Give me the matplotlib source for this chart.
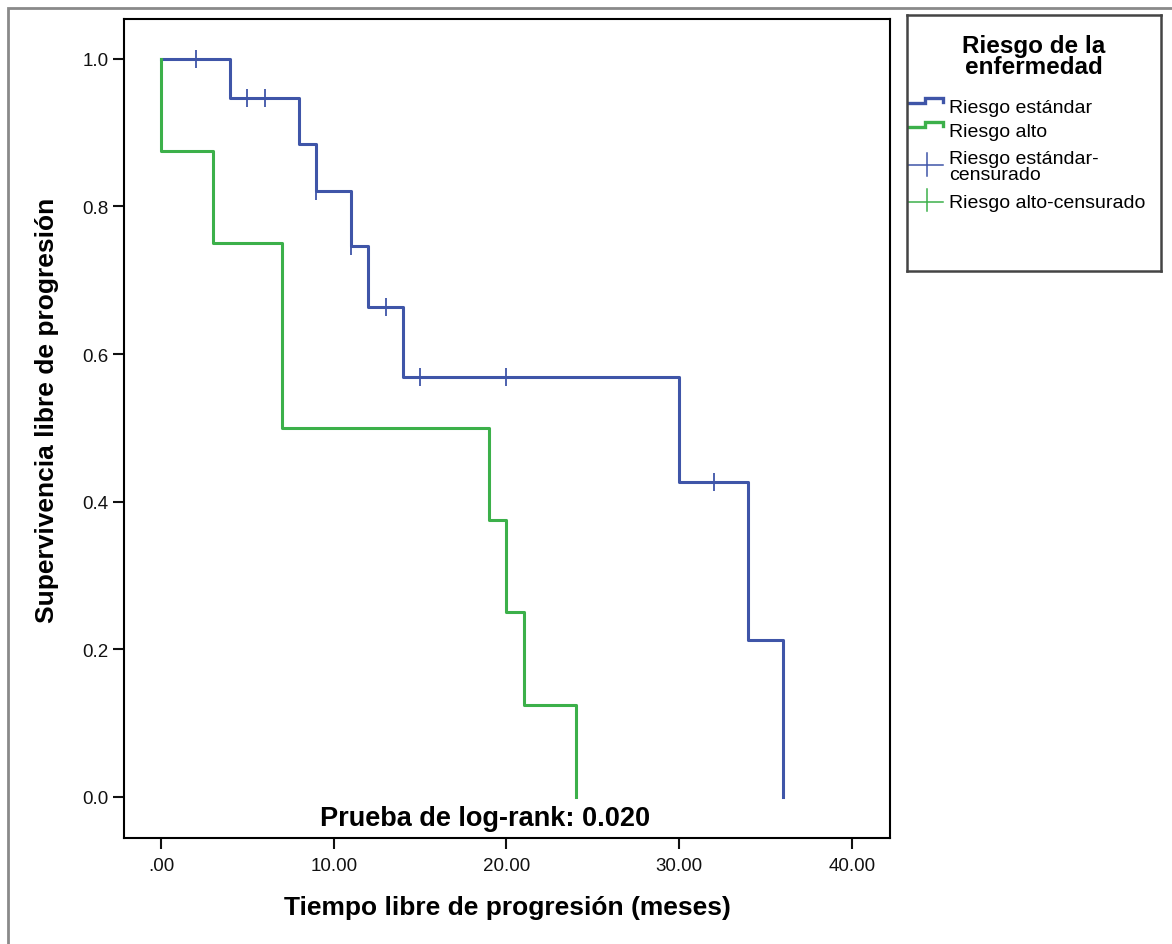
import numpy as np
import matplotlib.pyplot as plt
from matplotlib.patches import Rectangle

plt.rcParams['font.family'] = ['Liberation Sans', 'DejaVu Sans']

# Kaplan-Meier estimates
std_time = [0, 4, 8, 9, 11, 12, 14, 30, 34, 36]
std_surv = [1.0, 0.947, 0.884, 0.821, 0.747, 0.664, 0.569, 0.427, 0.213, 0.0]
std_cens_time = [2, 5, 6, 9, 11, 13, 15, 20, 32]
std_cens_surv = [1.0, 0.947, 0.947, 0.821, 0.747, 0.664, 0.569, 0.569, 0.427]

alto_time = [0, 0, 3, 7, 19, 20, 21, 24]
alto_surv = [1.0, 0.875, 0.75, 0.5, 0.375, 0.25, 0.125, 0.0]

x_ticks = [0, 10, 20, 30, 40]
x_ticklabels = ['.00', '10.00', '20.00', '30.00', '40.00']
y_ticks = [0.0, 0.2, 0.4, 0.6, 0.8, 1.0]
y_ticklabels = ['0.0', '0.2', '0.4', '0.6', '0.8', '1.0']

legend_title = 'Riesgo de la\nenfermedad'
legend_labels = ['Riesgo estándar', 'Riesgo alto',
                 'Riesgo estándar-\ncensurado', 'Riesgo alto-censurado']
logrank_text = 'Prueba de log-rank: 0.020'

blue = '#3f55a8'
green = '#3cb04a'
W, H = 1172, 945

fig = plt.figure(figsize=(W / 100, H / 100), dpi=100)

# outer frame (only top and left visible)
fig.add_artist(Rectangle((8 / W, -0.1), 1.2, (H - 9) / H + 0.1,
                         transform=fig.transFigure, fill=False,
                         edgecolor='#8a8a8a', lw=2))

ax = fig.add_axes([124 / W, (H - 839) / H, (890 - 124) / W, (839 - 20) / H])
ax.step(std_time, std_surv, where='post', color=blue, lw=2.2)
ax.step(alto_time, alto_surv, where='post', color=green, lw=2.2)
ax.plot(std_cens_time, std_cens_surv, ls='none', marker='|', ms=13,
        mew=1.3, color=blue)

ax.set_xlim(-2.14, 42.2)
ax.set_ylim(-0.0556, 1.054)
ax.set_xticks(x_ticks)
ax.set_xticklabels(x_ticklabels)
ax.set_yticks(y_ticks)
ax.set_yticklabels(y_ticklabels)
ax.tick_params(direction='out', length=8, width=1.5, labelsize=13.5,
               colors='#111111')
ax.tick_params(axis='x', pad=6)
ax.tick_params(axis='y', pad=3)
for s in ax.spines.values():
    s.set_linewidth(1.5)

ax.set_xlabel('Tiempo libre de progresión (meses)', fontsize=19,
              fontweight='bold', va='center')
ax.xaxis.set_label_coords(0.5, (839 - 908) / 819)
ax.set_ylabel('Supervivencia libre de progresión', fontsize=19,
              fontweight='bold', va='center')
ax.yaxis.set_label_coords((47 - 124) / 766, (839 - 410) / 819)
ax.text(18.76, -0.029, logrank_text, fontsize=19.5, fontweight='bold',
        ha='center', va='center')

# legend box drawn by hand, in pixel coords inside the box
lx0, ly0, lx1, ly1 = 907, 16, 1161, 272
lax = fig.add_axes([lx0 / W, (H - ly1) / H, (lx1 - lx0) / W, (ly1 - ly0) / H])
lax.set_xlim(0, lx1 - lx0)
lax.set_ylim(ly1 - ly0, 0)
lax.set_xticks([])
lax.set_yticks([])
for s in lax.spines.values():
    s.set_linewidth(1.8)
    s.set_color('#444444')

lax.text(127, 41, legend_title, ha='center', va='center', fontsize=17.5,
         fontweight='bold', linespacing=0.92)

entry_y = [92, 116, 151.5, 187]
for i, (lab, yy) in enumerate(zip(legend_labels, entry_y)):
    col = blue if i % 2 == 0 else green
    if i < 2:
        lax.plot([0, 18, 18, 36, 36], [yy - 4, yy - 4, yy - 9, yy - 9, yy - 5],
                 color=col, lw=2.4, solid_joinstyle='miter')
    elif i == 2:
        lax.plot([0, 36], [yy - 2, yy - 2], color=col, lw=1.1)
        lax.plot([20, 20], [yy - 14, yy + 9], color=col, lw=1.1)
    else:
        lax.plot([0, 36], [yy, yy], color=col, lw=1.1)
        lax.plot([20, 20], [yy - 13, yy + 9], color=col, lw=1.1)
    lax.text(42, yy, lab, ha='left', va='center', fontsize=14,
             linespacing=0.95)

fig.savefig('out.png', dpi=100)
